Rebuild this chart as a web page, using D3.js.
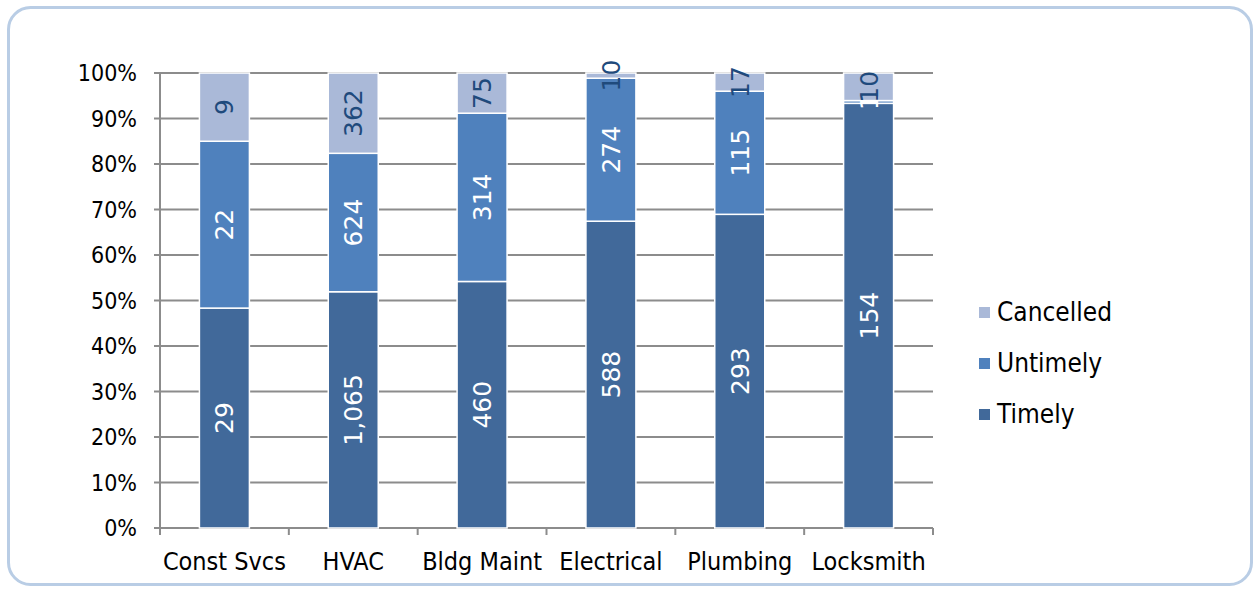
<!DOCTYPE html>
<html><head><meta charset="utf-8">
<script src="https://cdn.jsdelivr.net/npm/d3@7"></script>
<style>body{margin:0;background:#fff}svg{display:block}text{font-family:"DejaVu Sans Condensed","DejaVu Sans",sans-serif}</style>
</head><body>
<svg id="c" width="1255" height="590"></svg>
<script>
const categories = ["Const Svcs","HVAC","Bldg Maint","Electrical","Plumbing","Locksmith"];
const seriesNames = ["Timely","Untimely","Cancelled"];
const timely = [29,1065,460,588,293,154];
const untimely = [22,624,314,274,115,1];
const cancelled = [9,362,75,10,17,10];
const yTicks = [0,0.1,0.2,0.3,0.4,0.5,0.6,0.7,0.8,0.9,1];
const colors = ["#41699a","#4f81bd","#aab9d8"];
const labelColors = ["#fff","#fff","#1f4a7c"];

const svg = d3.select("#c");
svg.append("rect").attr("x",8.5).attr("y",7.5).attr("width",1243).attr("height",577)
  .attr("rx",22).attr("fill","#fff").attr("stroke","#b9cde5").attr("stroke-width",3);

const x = d3.scaleBand().domain(categories).range([160,933]).paddingInner(0.612).paddingOuter(0.306);
const y = d3.scaleLinear().domain([0,1]).range([528,73]);
const rows = categories.map((c,i)=>({cat:c,Timely:timely[i],Untimely:untimely[i],Cancelled:cancelled[i]}));
const stack = d3.stack().keys(seriesNames).offset(d3.stackOffsetExpand)(rows);

// gridlines
svg.append("g").selectAll("line").data(yTicks).join("line")
  .attr("x1",154).attr("x2",933).attr("y1",d=>y(d)).attr("y2",d=>y(d))
  .attr("stroke","#8c8c8c").attr("stroke-width",2);
// y axis
svg.append("line").attr("x1",160).attr("x2",160).attr("y1",73).attr("y2",528).attr("stroke","#8c8c8c").attr("stroke-width",2);
svg.append("g").selectAll("text").data(yTicks).join("text")
  .attr("x",137).attr("y",d=>y(d)).attr("dy","0.36em").attr("text-anchor","end")
  .attr("font-size",23).attr("fill","#000").text(d3.format(".0%"));
// x axis tick marks
const bounds = d3.range(categories.length+1).map(i=>160+i*x.step());
svg.append("g").selectAll("line").data(bounds).join("line")
  .attr("x1",d=>d).attr("x2",d=>d).attr("y1",528).attr("y2",535)
  .attr("stroke","#8c8c8c").attr("stroke-width",2);
svg.append("g").selectAll("text").data(categories).join("text")
  .attr("x",d=>x(d)+x.bandwidth()/2).attr("y",570).attr("text-anchor","middle")
  .attr("font-size",25).attr("fill","#000").text(d=>d);

// bars
const g = svg.append("g");
stack.forEach((s,si)=>{
  g.append("g").selectAll("rect").data(s).join("rect")
    .attr("x",d=>x(d.data.cat)).attr("width",x.bandwidth())
    .attr("y",d=>y(d[1])).attr("height",d=>y(d[0])-y(d[1]))
    .attr("fill",colors[si]).attr("stroke","#fff").attr("stroke-width",1.5);
});
stack.forEach((s,si)=>{
  g.append("g").selectAll("text").data(s).join("text")
    .attr("transform",d=>`translate(${x(d.data.cat)+x.bandwidth()/2},${(y(d[0])+y(d[1]))/2}) rotate(-90)`)
    .attr("text-anchor","middle").attr("dy","0.36em").attr("font-size",25)
    .style("font-family","'DejaVu Sans',sans-serif")
    .attr("fill",labelColors[si]).text(d=>d3.format(",")(d.data[s.key]));
});

// legend
const leg = svg.append("g");
["Cancelled","Untimely","Timely"].forEach((n,i)=>{
  const si = seriesNames.indexOf(n);
  const cy = 312 + i*51;
  leg.append("rect").attr("x",979).attr("y",cy-5).attr("width",11).attr("height",11).attr("fill",colors[si]);
  leg.append("text").attr("x",997).attr("y",cy).attr("dy","0.36em").attr("font-size",26).attr("fill","#000").text(n);
});
</script>
</body></html>
